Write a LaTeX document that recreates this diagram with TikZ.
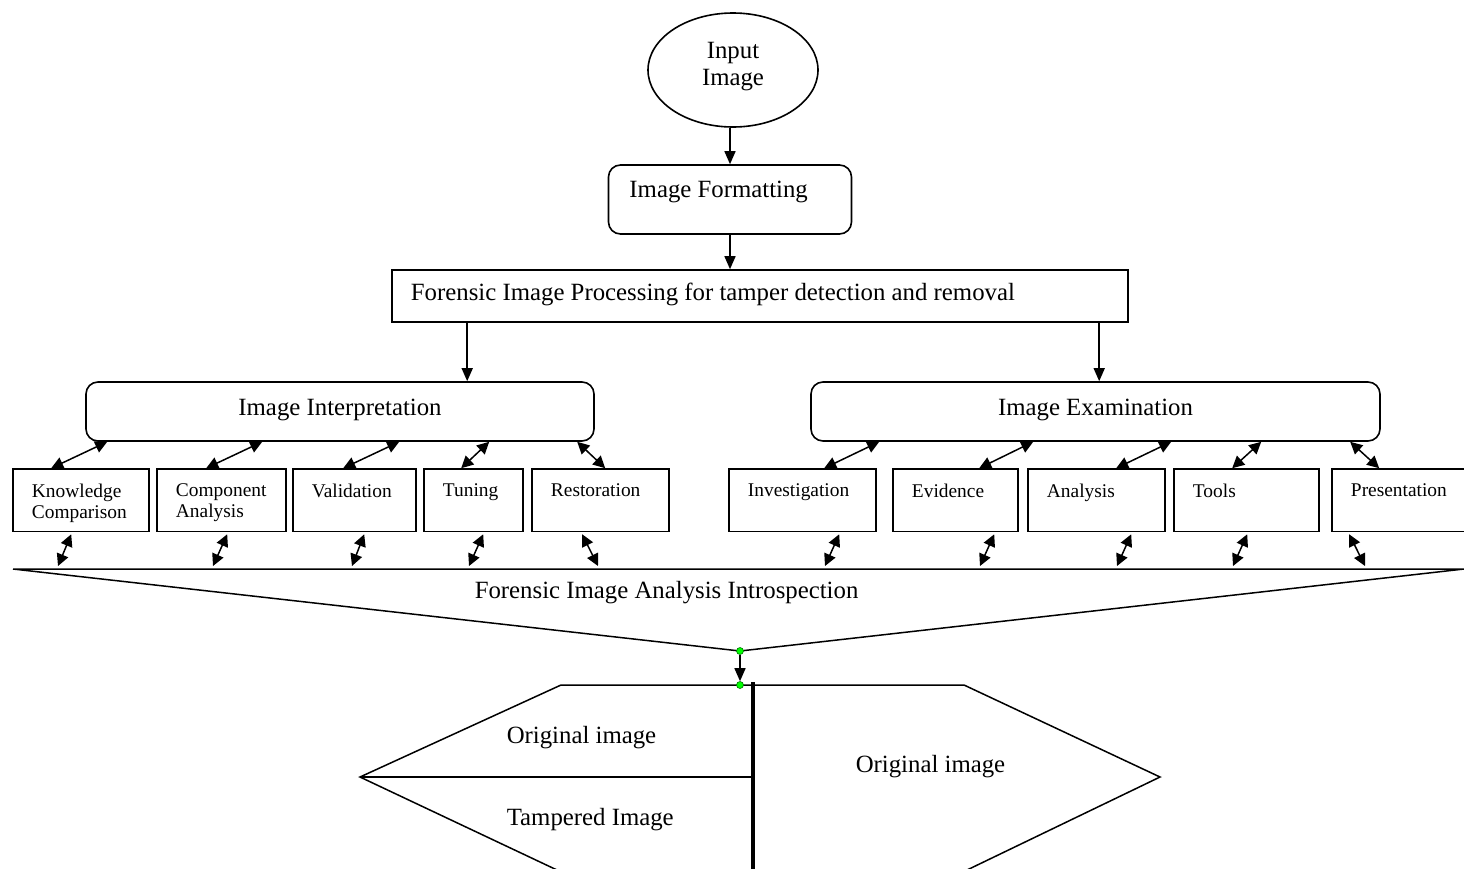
\documentclass[tikz,border=0pt]{standalone}
\usepackage{fontspec}
\setmainfont{Liberation Serif}
\usetikzlibrary{arrows.meta,shapes.geometric}

\begin{document}
\begin{tikzpicture}[x=1pt,y=-1pt,line width=1.5pt,
  txt/.style={font=\fontsize{24.8}{27}\selectfont,inner sep=0pt},
  small/.style={font=\fontsize{19.4}{21}\selectfont,inner sep=0pt,align=left,anchor=north west},
  box/.style={draw,line width=1.6pt,inner sep=0pt},
  rbox/.style={box,rounded corners=12pt},
  arr/.style={-{Triangle[length=13pt,width=11pt]}},
  dbl/.style={{Triangle[length=12pt,width=12pt]}-{Triangle[length=12pt,width=12pt]}},
  dot/.style={circle,fill=green,draw=green!45!black,line width=0.6pt,inner sep=0pt,minimum size=7pt}]
  \useasboundingbox (0,0) rectangle (1464,868);
  \node[ellipse,box,minimum width=170,minimum height=114] (in) at (733,70) {};
  \node[txt,align=center,anchor=base] (in-t) at (733,85) {Input\\Image};
  \node[rbox,minimum width=243,minimum height=69] (if) at (730,199.5) {};
  \node[txt,anchor=base west] (if-t) at ([xshift=21pt,yshift=2.5pt]if.west) {Image Formatting};
  \node[box,minimum width=736,minimum height=52] (fp) at (760,296) {};
  \node[txt,anchor=base west] (fp-t) at ([xshift=19pt,yshift=-4pt]fp.west) {Forensic Image Processing for tamper detection and removal};
  \node[rbox,minimum width=508,minimum height=59] (ii) at (340,411.5) {};
  \node[txt,anchor=base] (ii-t) at ([yshift=-3.5pt]ii.center) {Image Interpretation};
  \node[rbox,minimum width=569,minimum height=59] (ex) at (1095.5,411.5) {};
  \node[txt,anchor=base] (ex-t) at ([yshift=-3.5pt]ex.center) {Image Examination};
  \draw[arr] (in.south -| if.north) -- (if.north);
  \draw[arr] (if.south) -- (if.south |- fp.north);
  \path ([xshift=76pt]fp.south west) coordinate (fpl) ([xshift=708pt]fp.south west) coordinate (fpr);
  \draw[arr] (fpl) -- (fpl |- ii.north);
  \draw[arr] (fpr) -- (fpr |- ex.north);
  \foreach \n/\l/\r/\t in {kc/13/149/{Knowledge\\Comparison}, ca/157/286/{Component\\Analysis},
      va/293/416/Validation, tu/424/523/Tuning, rs/532/669/Restoration, iv/729/876/Investigation,
      ev/893/1018/Evidence, an/1028/1165/Analysis, tl/1174/1319/Tools, pr/1332/1470/Presentation}{
    \node[box,minimum width=\r-\l,minimum height=62.5] (\n) at ({(\l+\r)/2},500.25) {};
    \node[small] (\n-t) at ([xshift=19pt,yshift=-15pt]\n.north west) {\t};
  }
  \coordinate (fl) at (13,569);
  \coordinate (fr) at (1464,569);
  \coordinate (fv) at (740,651);
  \draw (fl) -- (fr) (fl) -- (fv) -- (fr);
  \node[txt,anchor=base west] (fi) at ([xshift=461pt,yshift=-29pt]fl) {Forensic Image Analysis Introspection};
  \foreach \n/\p/\a/\b/\c/\d in {kc/ii/22/39/59/45, ca/ii/177/50/71/200, va/ii/314/51/72/339,
      tu/ii/404/38/60/456, rs/ii/492/74/51/585, iv/ex/69/96/111/812, ev/ex/223/87/102/967,
      an/ex/361/89/104/1104, tl/ex/451/59/74/1220, pr/ex/540/48/18/1352}{
    \draw[dbl] ([xshift=\a pt]\p.south west) -- ([xshift=\b pt]\n.north west);
    \draw[dbl] ([xshift=\c pt,yshift=-2pt]\n.south west) -- ([xshift=\d pt,yshift=3pt]fl);
  }
  \coordinate (lp) at (360,777);
  \draw (557,870) -- (lp) -- (561,685) -- (964,685) -- (1160,777) -- (967,870);
  \draw (lp) -- (752,777);
  \draw[line width=3.5pt] (753,682) -- (753,870);
  \node[dot] (d1) at (fv) {};
  \node[dot] (d2) at (740,685) {};
  \draw[arr] (d1) -- (d2);
  \node[txt,anchor=base west] (o1) at (506,743) {Original image};
  \node[txt,anchor=base west] (t1) at (506,825) {Tampered Image};
  \node[txt,anchor=base west] (o2) at (855,772) {Original image};
\end{tikzpicture}
\end{document}
